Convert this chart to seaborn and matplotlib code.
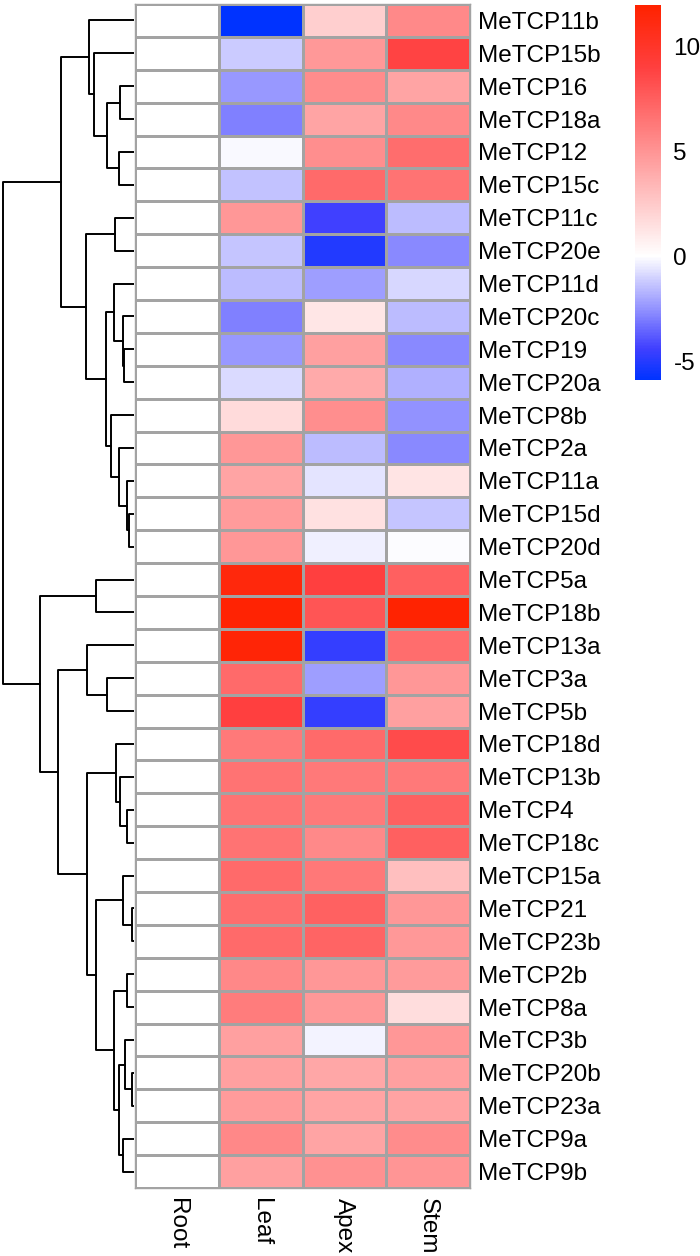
import numpy as np
import pandas as pd
import matplotlib
matplotlib.use('Agg')
import matplotlib.pyplot as plt
import seaborn as sns
from matplotlib.colors import LinearSegmentedColormap

# expression values (log2 fold change vs root), rows in displayed order
genes = ['MeTCP11b', 'MeTCP15b', 'MeTCP16', 'MeTCP18a', 'MeTCP12', 'MeTCP15c',
         'MeTCP11c', 'MeTCP20e', 'MeTCP11d', 'MeTCP20c', 'MeTCP19', 'MeTCP20a',
         'MeTCP8b', 'MeTCP2a', 'MeTCP11a', 'MeTCP15d', 'MeTCP20d', 'MeTCP5a',
         'MeTCP18b', 'MeTCP13a', 'MeTCP3a', 'MeTCP5b', 'MeTCP18d', 'MeTCP13b',
         'MeTCP4', 'MeTCP18c', 'MeTCP15a', 'MeTCP21', 'MeTCP23b', 'MeTCP2b',
         'MeTCP8a', 'MeTCP3b', 'MeTCP20b', 'MeTCP23a', 'MeTCP9a', 'MeTCP9b']
tissues = ['Root', 'Leaf', 'Apex', 'Stem']

root = [0.0] * 36
leaf = [-5.9, -1.2, -2.4, -2.9, -0.1, -1.4, 4.9, -1.3, -1.55, -2.9, -2.4, -0.8,
        1.7, 4.9, 4.25, 4.7, 4.9, 11.4, 11.8, 11.7, 7.0, 9.0, 6.3, 6.6,
        6.6, 6.6, 7.0, 6.85, 7.0, 5.6, 6.15, 4.5, 4.5, 4.7, 5.6, 4.5]
apex = [2.25, 4.8, 5.4, 4.25, 5.3, 7.0, -4.4, -5.1, -2.2, 1.2, 4.5, 4.0,
        5.3, -1.5, -0.6, 1.4, -0.35, 9.0, 8.0, -4.7, -2.2, -4.7, 7.0, 6.3,
        6.3, 5.55, 6.4, 7.4, 7.3, 4.9, 4.85, -0.25, 4.1, 4.25, 4.25, 5.2]
stem = [5.55, 8.8, 4.25, 5.55, 6.85, 6.6, -1.5, -2.7, -0.9, -1.5, -2.7, -1.8,
        -2.5, -2.7, 1.3, -1.3, -0.05, 7.5, 11.9, 6.85, 4.9, 4.5, 8.5, 6.3,
        7.5, 7.5, 3.0, 4.9, 4.85, 4.7, 1.65, 4.9, 4.5, 4.35, 5.4, 5.0]

# row clustering: (left, right, height); new node ids start at 36
merges = [
    (2, 3, 14), (4, 5, 14.7), (36, 37, 26.7), (1, 38, 39.7), (0, 39, 44.7),
    (10, 11, 10), (9, 41, 11.3), (8, 42, 19.7), (15, 16, 4.7), (14, 44, 7.3),
    (13, 45, 14.7), (12, 46, 23.3), (43, 47, 28.3), (6, 7, 19), (49, 48, 47.7),
    (40, 50, 72.7), (17, 18, 38.3), (20, 21, 27.3), (19, 53, 46.7), (24, 25, 7),
    (23, 55, 14), (22, 56, 18.3), (27, 28, 1.7), (26, 58, 11.3), (29, 30, 7),
    (32, 33, 1.7), (31, 61, 8.7), (34, 35, 10.7), (62, 63, 14.7), (60, 64, 20),
    (59, 65, 38.3), (57, 66, 46.7), (54, 67, 75.7), (52, 68, 94), (51, 69, 130.7),
]

df = pd.DataFrame({'Root': root, 'Leaf': leaf, 'Apex': apex, 'Stem': stem}, index=genes)

sns.set_style('white')
plt.rcParams['font.family'] = ['Liberation Sans', 'DejaVu Sans']
plt.rcParams['axes.unicode_minus'] = False
plt.rcParams['text.color'] = 'black'
plt.rcParams['xtick.color'] = 'black'
plt.rcParams['ytick.color'] = 'black'

vmin, vmax = -5.9, 12
mid = (0 - vmin) / (vmax - vmin)
cmap = LinearSegmentedColormap.from_list(
    'bwr_shift', [(0, '#0033FF'), (0.25 * mid, '#4040FF'), (mid, '#FFFFFF'),
                  (mid + 0.75 * (1 - mid), '#FF4040'), (1, '#FF2200')])

W, H = 700, 1256
fig = plt.figure(figsize=(W / 100, H / 100), dpi=100)
top, bot = 4, 1188
ax_h = fig.add_axes([135 / W, 1 - bot / H, 335 / W, (bot - top) / H])
ax_d = fig.add_axes([0, 1 - bot / H, 134 / W, (bot - top) / H])
ax_c = fig.add_axes([635 / W, 1 - 380 / H, 26 / W, 375 / H])

sns.heatmap(df, ax=ax_h, cmap=cmap, vmin=vmin, vmax=vmax,
            linewidths=1, linecolor='#A3A3A3', yticklabels=True,
            cbar_ax=ax_c, cbar_kws={'ticks': [-5, 0, 5, 10]})

ax_h.yaxis.tick_right()
ax_h.set_yticklabels(genes, rotation=0, fontsize=17.5, color='black')
ax_h.set_xticklabels(tissues, rotation=270, fontsize=17.5, va='top', color='black')
ax_h.tick_params(axis='y', length=0, pad=6)
ax_h.tick_params(axis='x', length=0, pad=7)
ax_h.set_xlabel('')
ax_h.set_ylabel('')
for s in ax_h.spines.values():
    s.set_visible(True)
    s.set_color('#A3A3A3')
    s.set_linewidth(1)

cbar = ax_h.collections[0].colorbar
cbar.outline.set_visible(False)
ax_c.tick_params(length=0, labelsize=17.5, pad=9, labelcolor='black')

# dendrogram
pos = {i: (0.0, i + 0.5) for i in range(len(genes))}
for k, (a, b, h) in enumerate(merges):
    ha, ya = pos[a]
    hb, yb = pos[b]
    ax_d.plot([ha, h, h, hb], [ya, ya, yb, yb], color='black', lw=1.4)
    pos[len(genes) + k] = (h, (ya + yb) / 2)
ax_d.set_xlim(134, 0)
ax_d.set_ylim(len(genes), 0)
ax_d.axis('off')

fig.savefig('out.png', dpi=100)
